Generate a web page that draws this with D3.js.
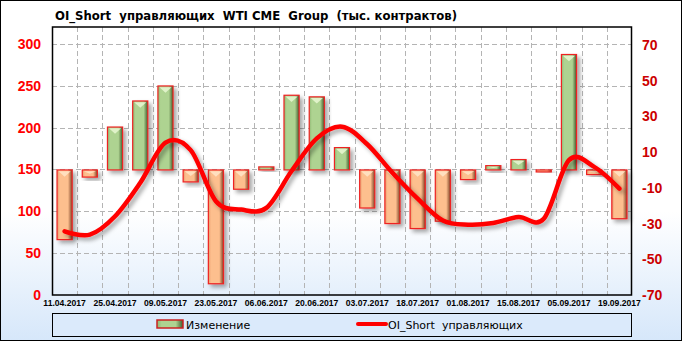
<!DOCTYPE html>
<html>
<head>
<meta charset="utf-8">
<script src="https://cdn.jsdelivr.net/npm/d3@7"></script>
<style>
  body { margin: 0; background: #fff; }
  svg { display: block; }
</style>
</head>
<body>
<div id="chart"></div>
<script>
// Data
const dates = ["11.04.2017", "18.04.2017", "25.04.2017", "02.05.2017", "09.05.2017", "16.05.2017",
  "23.05.2017", "30.05.2017", "06.06.2017", "13.06.2017", "20.06.2017", "27.06.2017",
  "03.07.2017", "11.07.2017", "18.07.2017", "25.07.2017", "01.08.2017", "08.08.2017",
  "15.08.2017", "22.08.2017", "05.09.2017", "12.09.2017", "19.09.2017"];
const changes = [-39, -4, 24, 38.6, 47, -6.7, -63.7, -10.8, 1.7, 41.8, 40.9, 12.5,
  -21.3, -30, -32.8, -28.7, -5.4, 2.4, 5.8, -0.8, 64.6, -2.6, -27.3];
const oiShort = [76, 72, 94, 134, 182, 173, 112, 102, 104, 148, 187, 201,
  180, 146, 115, 89, 84, 86, 93, 91, 161, 153, 127];
const leftTicks = [0, 50, 100, 150, 200, 250, 300];
const rightTicks = [-70, -50, -30, -10, 10, 30, 50, 70];

const width = 682, height = 341;
const plot = { left: 52, right: 632, top: 27, bottom: 295 };

const svg = d3.select("#chart").append("svg")
  .attr("width", width)
  .attr("height", height);

const defs = svg.append("defs");

// background gradient
const bg = defs.append("linearGradient").attr("id", "bg")
  .attr("gradientUnits", "userSpaceOnUse")
  .attr("x1", 0).attr("y1", 0).attr("x2", 0).attr("y2", height);
bg.append("stop").attr("offset", "0.62").attr("stop-color", "#ffffff");
bg.append("stop").attr("offset", "1").attr("stop-color", "#d6e7fa");

function barGradient(id, left, mid, right) {
  const g = defs.append("linearGradient").attr("id", id)
    .attr("x1", 0).attr("y1", 0).attr("x2", 1).attr("y2", 0);
  g.append("stop").attr("offset", "0").attr("stop-color", left);
  g.append("stop").attr("offset", "0.18").attr("stop-color", mid);
  g.append("stop").attr("offset", "0.72").attr("stop-color", mid);
  g.append("stop").attr("offset", "1").attr("stop-color", right);
}
barGradient("gUp", "#8fb872", "#aed391", "#3f5a2c");
barGradient("gDown", "#e89a6c", "#fdbf8e", "#7d4226");

const shadow = defs.append("filter").attr("id", "shadow")
  .attr("x", "-50%").attr("y", "-50%").attr("width", "200%").attr("height", "200%");
shadow.append("feDropShadow").attr("dx", 3).attr("dy", 3).attr("stdDeviation", 2)
  .attr("flood-color", "#000").attr("flood-opacity", 0.35);

svg.append("rect")
  .attr("x", 0.5).attr("y", 0.5)
  .attr("width", width - 1).attr("height", height - 1)
  .attr("fill", "url(#bg)")
  .attr("stroke", "#000");

// Title
svg.append("text")
  .attr("x", 55).attr("y", 19.5)
  .attr("font-family", "'DejaVu Sans Condensed', 'Liberation Sans Narrow', sans-serif")
  .attr("font-weight", "bold")
  .attr("font-size", 13)
  .attr("textLength", 402)
  .attr("lengthAdjust", "spacingAndGlyphs")
  .attr("xml:space", "preserve")
  .style("white-space", "pre")
  .text("OI_Short  управляющих  WTI CME  Group  (тыс. контрактов)");

// Scales
const x = d3.scaleBand()
  .domain(dates)
  .range([plot.left, plot.right])
  .paddingInner(0.4)
  .paddingOuter(0.2);

const yL = d3.scaleLinear().domain([0, 320]).range([plot.bottom, plot.top]);
const yR = d3.scaleLinear().domain([-70, 80]).range([plot.bottom, plot.top]);

// Grid
const grid = svg.append("g")
  .attr("stroke", "#b4b4b4")
  .attr("stroke-width", 1)
  .attr("stroke-dasharray", "5,3");

grid.selectAll("line.h")
  .data(leftTicks.filter(d => d > 0))
  .enter().append("line")
  .attr("x1", plot.left).attr("x2", plot.right)
  .attr("y1", d => Math.round(yL(d)) + 0.5)
  .attr("y2", d => Math.round(yL(d)) + 0.5);

grid.selectAll("line.v")
  .data(dates.slice(1))
  .enter().append("line")
  .attr("x1", d => Math.round(x(d) - x.step() * 0.2) + 0.5)
  .attr("x2", d => Math.round(x(d) - x.step() * 0.2) + 0.5)
  .attr("y1", plot.top).attr("y2", plot.bottom);

// Bars
const bw = x.bandwidth();
const bars = svg.append("g").selectAll("g")
  .data(dates.map((d, i) => ({ date: d, v: changes[i] })))
  .enter().append("g");

bars.append("rect")
  .attr("x", d => x(d.date))
  .attr("y", d => Math.min(yR(0), yR(d.v)))
  .attr("width", bw)
  .attr("height", d => Math.max(2, Math.abs(yR(d.v) - yR(0))))
  .attr("fill", d => d.v >= 0 ? "url(#gUp)" : "url(#gDown)")
  .attr("stroke", "#ee2222")
  .attr("stroke-width", 1.2)
  .attr("filter", "url(#shadow)");

// top bevel
bars.append("path")
  .attr("d", d => {
    const x0 = x(d.date) + 1.5, x1 = x(d.date) + bw - 1.5;
    const top = Math.min(yR(0), yR(d.v)) + 1.2;
    const h = Math.abs(yR(d.v) - yR(0));
    const depth = Math.min(bw / 2 - 2, h / 2 - 1);
    if (depth < 1) return "";
    return `M${x0},${top}L${x1},${top}L${(x0 + x1) / 2},${top + depth}Z`;
  })
  .attr("fill", d => d.v >= 0 ? "#e6f5cf" : "#ffe2c4")
  .attr("opacity", 0.9);

// Line
const line = d3.line()
  .x((d, i) => x(dates[i]) + bw / 2)
  .y(d => yL(d))
  .curve(d3.curveCardinal.tension(0));

svg.append("path")
  .datum(oiShort)
  .attr("d", line)
  .attr("fill", "none")
  .attr("stroke", "#ff0000")
  .attr("stroke-width", 4.5)
  .attr("stroke-linecap", "round")
  .attr("filter", "url(#shadow)");

// Plot border
svg.append("rect")
  .attr("x", plot.left + 0.5).attr("y", plot.top)
  .attr("width", plot.right - plot.left - 1)
  .attr("height", plot.bottom - plot.top)
  .attr("fill", "none")
  .attr("stroke", "#000")
  .attr("stroke-width", 1.5);

// Left axis labels
svg.append("g").selectAll("text")
  .data(leftTicks)
  .enter().append("text")
  .attr("x", 41)
  .attr("y", d => yL(d) + 5)
  .attr("text-anchor", "end")
  .attr("font-family", "'Liberation Sans', Arial, sans-serif")
  .attr("font-weight", "bold")
  .attr("font-size", 14)
  .attr("fill", "#ff0000")
  .text(d => d);

// Right axis labels
svg.append("g").selectAll("text")
  .data(rightTicks)
  .enter().append("text")
  .attr("x", 642)
  .attr("y", d => yR(d) + 5)
  .attr("text-anchor", "start")
  .attr("font-family", "'Liberation Sans', Arial, sans-serif")
  .attr("font-weight", "bold")
  .attr("font-size", 14)
  .attr("fill", "#cc0000")
  .text(d => d);

// X labels (every second date)
svg.append("g").selectAll("text")
  .data(dates.filter((d, i) => i % 2 === 0))
  .enter().append("text")
  .attr("x", d => x(d) + bw / 2)
  .attr("y", 305.5)
  .attr("text-anchor", "middle")
  .attr("font-family", "'Liberation Sans', Arial, sans-serif")
  .attr("font-weight", "bold")
  .attr("font-size", 8.6)
  .attr("fill", "#000")
  .text(d => d);

// Legend
const legend = svg.append("g");
legend.append("rect")
  .attr("x", plot.left + 0.5).attr("y", 313.5)
  .attr("width", plot.right - plot.left - 1).attr("height", 23)
  .attr("fill", "#dbeafb")
  .attr("stroke", "#000");

legend.append("rect")
  .attr("x", 157).attr("y", 320)
  .attr("width", 26).attr("height", 8)
  .attr("fill", "url(#gUp)")
  .attr("stroke", "#cc2222")
  .attr("stroke-width", 1.5);

legend.append("text")
  .attr("x", 186).attr("y", 329)
  .attr("font-family", "'DejaVu Sans', Verdana, sans-serif")
  .attr("font-size", 11)
  .text("Изменение");

legend.append("line")
  .attr("x1", 358).attr("x2", 386)
  .attr("y1", 324).attr("y2", 324)
  .attr("stroke", "#ff0000")
  .attr("stroke-width", 4)
  .attr("stroke-linecap", "round");

legend.append("text")
  .attr("x", 388).attr("y", 329)
  .attr("font-family", "'DejaVu Sans', Verdana, sans-serif")
  .attr("font-size", 11)
  .attr("xml:space", "preserve")
  .style("white-space", "pre")
  .text("OI_Short  управляющих");
</script>
</body>
</html>
